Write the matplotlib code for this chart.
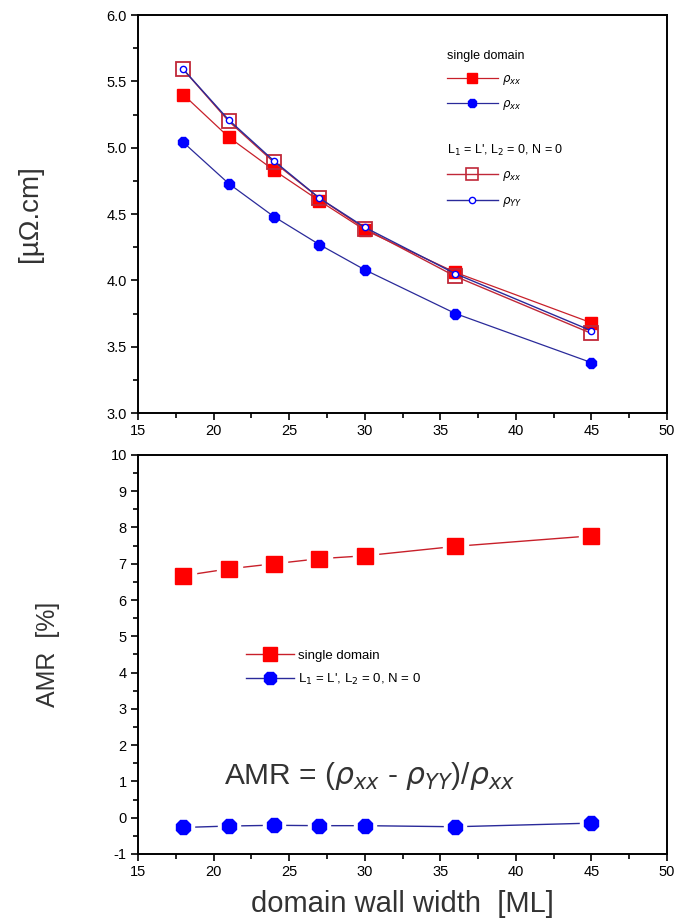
import numpy as np
import matplotlib.pyplot as plt
from matplotlib.lines import Line2D
from matplotlib.ticker import MultipleLocator, FormatStrFormatter

plt.rcParams['font.family'] = ['Liberation Sans', 'DejaVu Sans']
plt.rcParams['axes.unicode_minus'] = False

# domain wall width [ML]
width = [18, 21, 24, 27, 30, 36, 45]

# resistivities [uOhm.cm]
sd_rho_xx = [5.40, 5.08, 4.83, 4.60, 4.38, 4.06, 3.68]
sd_rho_yy = [5.04, 4.73, 4.48, 4.27, 4.08, 3.75, 3.38]
l1_rho_xx = [5.59, 5.20, 4.89, 4.62, 4.39, 4.03, 3.60]
l1_rho_yy = [5.59, 5.21, 4.90, 4.62, 4.40, 4.05, 3.62]

# AMR [%]
amr_single = [6.67, 6.86, 7.00, 7.14, 7.22, 7.48, 7.77]
amr_l1 = [-0.27, -0.23, -0.21, -0.22, -0.22, -0.25, -0.15]

xticks = [15, 20, 25, 30, 35, 40, 45, 50]

RED = '#ff0000'
BLUE = '#0000ff'
RED_LINE = '#c8202a'
BLUE_LINE = '#2a2a9a'
OPEN_RED = '#c02838'

fig = plt.figure(figsize=(6.74, 9.23), dpi=100)
ax1 = fig.add_axes([0.2047, 0.5525, 0.785, 0.4312])
ax2 = fig.add_axes([0.2047, 0.0748, 0.785, 0.4323])


def style_axis(ax):
    for s in ax.spines.values():
        s.set_linewidth(1.4)
    ax.tick_params(which='both', direction='out', top=False, right=False,
                   labelsize=10.5, colors='black', width=1.2)
    ax.tick_params(which='major', length=5, pad=3)
    ax.tick_params(which='minor', length=3.5)
    ax.set_xlim(15, 50)
    ax.set_xticks(xticks)
    ax.xaxis.set_minor_locator(MultipleLocator(2.5))


# ---- upper panel: resistivities
ax1.plot(width, sd_rho_xx, color=RED_LINE, lw=0.9, marker='s', ms=8.5,
         mfc=RED, mec=RED, zorder=3)
ax1.plot(width, sd_rho_yy, color=BLUE_LINE, lw=0.9, marker='8', ms=8.5,
         mfc=BLUE, mec=BLUE, zorder=3)
ax1.plot(width, l1_rho_xx, color=OPEN_RED, lw=1.0, marker='s', ms=10,
         mfc='none', mec=OPEN_RED, mew=1.3, zorder=4)
ax1.plot(width, l1_rho_yy, color=BLUE_LINE, lw=1.0, marker='o', ms=4.5,
         mfc='white', mec=BLUE, mew=1.0, zorder=5)

style_axis(ax1)
ax1.set_ylim(3.0, 6.0)
ax1.yaxis.set_major_locator(MultipleLocator(0.5))
ax1.yaxis.set_minor_locator(MultipleLocator(0.25))
ax1.yaxis.set_major_formatter(FormatStrFormatter('%.1f'))
ax1.set_ylabel('[µΩ.cm]', fontsize=20, color='#333333', labelpad=46)

h_sd = [Line2D([], [], color=RED_LINE, lw=0.9, marker='s', ms=7, mfc=RED, mec=RED),
        Line2D([], [], color=BLUE_LINE, lw=0.9, marker='8', ms=7, mfc=BLUE, mec=BLUE)]
leg1 = ax1.legend(h_sd, [r'$\rho_{xx}$', r'$\rho_{xx}$'], title='single domain',
                  loc='upper left', bbox_to_anchor=(0.575, 0.925), frameon=False,
                  fontsize=8.5, title_fontsize=9, handlelength=4.3, handletextpad=0.4,
                  labelspacing=0.95, alignment='left', borderaxespad=0)
ax1.add_artist(leg1)
h_l1 = [Line2D([], [], color=OPEN_RED, lw=1.0, marker='s', ms=9, mfc='none',
               mec=OPEN_RED, mew=1.2),
        Line2D([], [], color=BLUE_LINE, lw=1.0, marker='o', ms=4.5, mfc='white',
               mec=BLUE)]
ax1.legend(h_l1, [r'$\rho_{xx}$', r'$\rho_{YY}$'],
           title="L$_{\\mathsf{1}}$ = L', L$_{\\mathsf{2}}$ = 0, N = 0",
           loc='upper left', bbox_to_anchor=(0.575, 0.69), frameon=False,
           fontsize=8.5, title_fontsize=9, handlelength=4.3, handletextpad=0.4,
           labelspacing=0.95, alignment='left', borderaxespad=0)

# ---- lower panel: AMR
for y, c, lc, m, ms in [(amr_single, RED, RED_LINE, 's', 11),
                        (amr_l1, BLUE, BLUE_LINE, '8', 10.5)]:
    ax2.plot(width, y, color=lc, lw=1.0, zorder=2)
    ax2.plot(width, y, ls='none', marker=m, ms=ms + 7, mfc='white', mec='white', zorder=3)
    ax2.plot(width, y, ls='none', marker=m, ms=ms, mfc=c, mec=c, zorder=4)

style_axis(ax2)
ax2.set_ylim(-1, 10)
ax2.yaxis.set_major_locator(MultipleLocator(1))
ax2.yaxis.set_minor_locator(MultipleLocator(0.5))
ax2.set_ylabel('AMR  [%]', fontsize=18, color='#333333', labelpad=36)
ax2.set_xlabel('domain wall width  [ML]', fontsize=21, color='#333333', labelpad=8)

h_amr = [Line2D([], [], color=RED_LINE, lw=1.0, marker='s', ms=10, mfc=RED, mec=RED),
         Line2D([], [], color=BLUE_LINE, lw=1.0, marker='8', ms=10, mfc=BLUE, mec=BLUE)]
ax2.legend(h_amr, ['single domain', "L$_{\\mathsf{1}}$ = L', L$_{\\mathsf{2}}$ = 0, N = 0"],
           loc='upper left', bbox_to_anchor=(0.195, 0.525), frameon=False,
           fontsize=9.5, handlelength=3.6, handletextpad=0.3, labelspacing=0.75,
           borderaxespad=0)

ax2.text(0.163, 0.195, r'AMR = ($\rho_{xx}$ - $\rho_{YY}$)/$\rho_{xx}$',
         transform=ax2.transAxes, fontsize=21.5, color='#333333', va='center')

fig.savefig('out.png', dpi=100)
